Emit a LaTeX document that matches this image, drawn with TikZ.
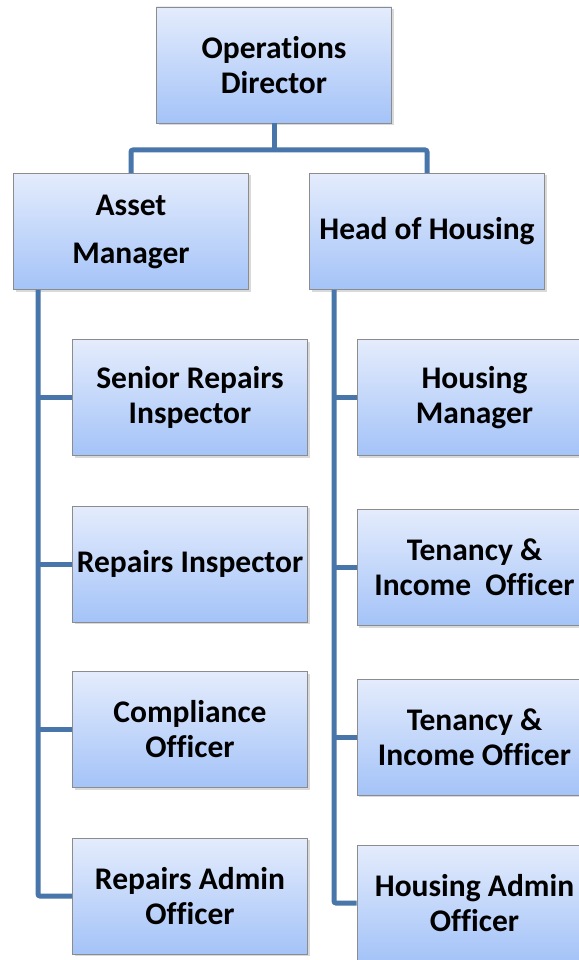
\documentclass[tikz,border=0pt]{standalone}
\usepackage{fontspec}
\setmainfont{Carlito}[Ligatures={NoCommon}]
\usetikzlibrary{positioning,shadows}
\definecolor{boxtop}{RGB}{228,236,252}
\definecolor{boxbot}{RGB}{164,195,248}
\definecolor{boxline}{RGB}{140,140,140}
\definecolor{linkblue}{RGB}{72,117,170}

\begin{document}
\begin{tikzpicture}[x=1pt,y=-1pt,
  post/.style = {draw=boxline, line width=0.8pt, top color=boxtop, bottom color=boxbot,
    minimum height=116pt, text width=235pt, inner sep=0pt, align=flush center,
    font=\fontsize{31.5}{35}\selectfont\bfseries,
    drop shadow={shadow xshift=2pt, shadow yshift=-2pt, opacity=0.3}},
  link/.style = {draw=linkblue, line width=5pt, rounded corners=2pt}]
\useasboundingbox (0,0) rectangle (578,960);

% top
\node[post] (od) at (274,65) {Operations\\Director};
\node[post] (am) at (131,231.5) {Asset\\[13pt]Manager};
\node[post] (hoh) at (427,231.5) {Head of Housing};

% asset side
\node[post] (sri) at (190,397.5) {Senior Repairs\\Inspector};
\node[post] (ri) at (190,564) {Repairs Inspector};
\node[post] (co) at (190,729.5) {Compliance\\Officer};
\node[post] (rao) at (190,896) {Repairs Admin\\Officer};

% housing side
\node[post] (hm) at (474.5,397.5) {Housing\\Manager};
\node[post] (tio1) at (474.5,567.5) {Tenancy \&\\Income\ \ Officer};
\node[post] (tio2) at (474.5,737) {Tenancy \&\\Income Officer};
\node[post] (hao) at (474.5,903) {Housing Admin\\Officer};

\coordinate (fork) at (274,150);
\coordinate (lspine) at (38,0);
\coordinate (rspine) at (334,0);

\draw[link] (od) -- (fork);
\draw[link] (fork) -| (am);
\draw[link] (fork) -| (hoh);

\draw[link] (am.south -| lspine) |- (rao.west);
\foreach \n in {sri,ri,co}
  \draw[link] (lspine |- \n) -- (\n.west);

\draw[link] (hoh.south -| rspine) |- (hao.west);
\foreach \n in {hm,tio1,tio2}
  \draw[link] (rspine |- \n) -- (\n.west);
\end{tikzpicture}
\end{document}
